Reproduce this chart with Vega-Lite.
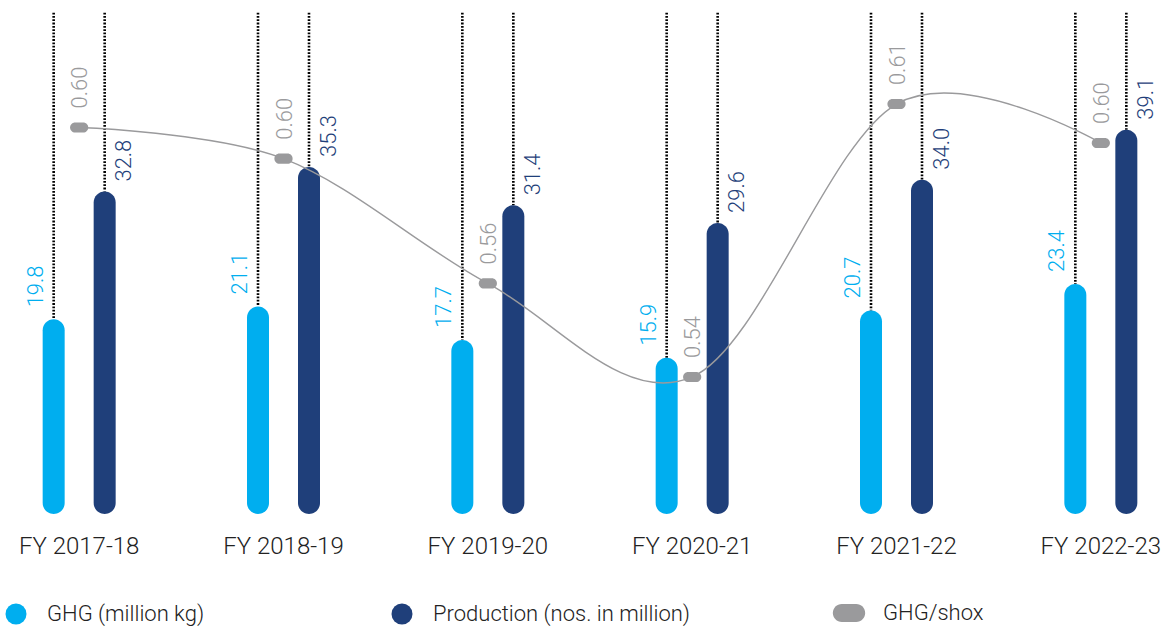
{
  "$schema": "https://vega.github.io/schema/vega-lite/v6.json",
  "width": 1174,
  "height": 628,
  "autosize": {"type": "none"},
  "padding": 0,
  "background": "#ffffff",
  "config": {"view": {"stroke": null}, "font": "Roboto"},
  "data": {
    "values": [
      {"year": "FY 2017-18", "series": "GHG (million kg)", "value": 19.8},
      {"year": "FY 2018-19", "series": "GHG (million kg)", "value": 21.1},
      {"year": "FY 2019-20", "series": "GHG (million kg)", "value": 17.7},
      {"year": "FY 2020-21", "series": "GHG (million kg)", "value": 15.9},
      {"year": "FY 2021-22", "series": "GHG (million kg)", "value": 20.7},
      {"year": "FY 2022-23", "series": "GHG (million kg)", "value": 23.4},
      {"year": "FY 2017-18", "series": "Production (nos. in million)", "value": 32.8},
      {"year": "FY 2018-19", "series": "Production (nos. in million)", "value": 35.3},
      {"year": "FY 2019-20", "series": "Production (nos. in million)", "value": 31.4},
      {"year": "FY 2020-21", "series": "Production (nos. in million)", "value": 29.6},
      {"year": "FY 2021-22", "series": "Production (nos. in million)", "value": 34.0},
      {"year": "FY 2022-23", "series": "Production (nos. in million)", "value": 39.1},
      {"year": "FY 2017-18", "series": "GHG/shox", "value": 0.604},
      {"year": "FY 2018-19", "series": "GHG/shox", "value": 0.596},
      {"year": "FY 2019-20", "series": "GHG/shox", "value": 0.564},
      {"year": "FY 2020-21", "series": "GHG/shox", "value": 0.540},
      {"year": "FY 2021-22", "series": "GHG/shox", "value": 0.610},
      {"year": "FY 2022-23", "series": "GHG/shox", "value": 0.600}
    ]
  },
  "encoding": {
    "x": {
      "field": "year",
      "type": "nominal",
      "sort": null,
      "scale": {"range": [-23, 1203], "paddingInner": 0, "paddingOuter": 0},
      "axis": {
        "title": null,
        "domain": false,
        "ticks": false,
        "tickSize": 0,
        "grid": false,
        "labelPadding": 0,
        "labelBaseline": "alphabetic",
        "offset": -75,
        "labelAngle": 0,
        "labelFontSize": 24,
        "labelFont": "Roboto",
        "labelFontWeight": 300,
        "labelColor": "#222222",
        "labelOverlap": false,
        "labelBound": false,
        "labelLimit": 0
      }
    }
  },
  "layer": [
    {
      "transform": [{"filter": "datum.series !== 'GHG/shox'"}],
      "encoding": {
        "y": {
          "field": "value",
          "type": "quantitative",
          "scale": {"domain": [-11.6, 52.29], "nice": false, "zero": false},
          "axis": null
        }
      },
      "layer": [
        {
          "transform": [{"filter": "datum.series === 'GHG (million kg)'"}],
          "mark": {"type": "rule", "xOffset": -25.5, "color": "#000000", "strokeWidth": 2.6, "strokeDash": [1.8, 1.5]},
          "encoding": {"y": {"datum": 51}, "y2": {"field": "value"}}
        },
        {
          "transform": [{"filter": "datum.series === 'Production (nos. in million)'"}],
          "mark": {"type": "rule", "xOffset": 25.5, "color": "#000000", "strokeWidth": 2.6, "strokeDash": [1.8, 1.5]},
          "encoding": {"y": {"datum": 51}, "y2": {"field": "value"}}
        },
        {
          "transform": [{"filter": "datum.series === 'GHG (million kg)'"}],
          "mark": {"type": "bar", "width": 22, "cornerRadius": 11, "xOffset": -25.5},
          "encoding": {
            "y2": {"datum": 0},
            "color": {
              "field": "series",
              "type": "nominal",
              "scale": {"domain": ["GHG (million kg)", "Production (nos. in million)"], "range": ["#00AEEF", "#1F3F7A"]},
              "legend": {
                "orient": "none",
                "legendX": 5,
                "legendY": 603,
                "direction": "horizontal",
                "columns": 2,
                "columnPadding": 186,
                "padding": 0,
                "title": null,
                "symbolType": "circle",
                "symbolSize": 441,
                "symbolStrokeWidth": 0,
                "labelOffset": 20,
                "labelFont": "Roboto",
                "labelFontSize": 22,
                "labelFontWeight": 300,
                "labelColor": "#222222",
                "labelLimit": 0
              }
            }
          }
        },
        {
          "transform": [{"filter": "datum.series === 'Production (nos. in million)'"}],
          "mark": {"type": "bar", "width": 22, "cornerRadius": 11, "xOffset": 25.5},
          "encoding": {
            "y2": {"datum": 0},
            "color": {"field": "series", "type": "nominal"}
          }
        },
        {
          "transform": [{"filter": "datum.series === 'GHG (million kg)'"}],
          "mark": {"type": "text", "angle": 270, "align": "left", "baseline": "middle", "xOffset": -43.5, "yOffset": -12, "fontSize": 22, "fontWeight": 300, "font": "Roboto", "color": "#00AEEF"},
          "encoding": {"text": {"field": "value", "type": "quantitative", "format": ".1f"}}
        },
        {
          "transform": [{"filter": "datum.series === 'Production (nos. in million)'"}],
          "mark": {"type": "text", "angle": 270, "align": "left", "baseline": "middle", "xOffset": 45, "yOffset": -10, "fontSize": 22, "fontWeight": 300, "font": "Roboto", "color": "#1F3F7A"},
          "encoding": {"text": {"field": "value", "type": "quantitative", "format": ".1f"}}
        }
      ]
    },
    {
      "transform": [{"filter": "datum.series === 'GHG/shox'"}],
      "encoding": {
        "y": {
          "field": "value",
          "type": "quantitative",
          "scale": {"domain": [0.4756, 0.6367], "nice": false, "zero": false},
          "axis": null
        }
      },
      "layer": [
        {
          "mark": {"type": "line", "interpolate": "cardinal", "color": "#9a9a9c", "strokeWidth": 1.4},
          "encoding": {}
        },
        {
          "mark": {"type": "point", "filled": true, "opacity": 1, "color": "#9a9a9c", "size": 324, "strokeWidth": 0},
          "encoding": {
            "shape": {
              "field": "series",
              "type": "nominal",
              "scale": {"domain": ["GHG/shox"], "range": ["M-0.45,-0.56L0.45,-0.56A0.56,0.56 0 0 1 0.45,0.56L-0.45,0.56A0.56,0.56 0 0 1 -0.45,-0.56Z"]},
              "legend": {
                "orient": "none",
                "legendX": 833,
                "legendY": 597,
                "padding": 0,
                "title": null,
                "symbolSize": 1024,
                "symbolFillColor": "#9a9a9c",
                "symbolStrokeColor": "#9a9a9c",
                "symbolStrokeWidth": 0,
                "labelOffset": 18,
                "labelFont": "Roboto",
                "labelFontSize": 22,
                "labelFontWeight": 300,
                "labelColor": "#222222"
              }
            }
          }
        },
        {
          "mark": {"type": "text", "angle": 270, "align": "left", "baseline": "middle", "xOffset": 1, "yOffset": -19, "fontSize": 22, "fontWeight": 300, "font": "Roboto", "color": "#9a9a9c"},
          "encoding": {"text": {"field": "value", "type": "quantitative", "format": ".2f"}}
        }
      ]
    }
  ],
  "resolve": {"scale": {"y": "independent"}}
}
